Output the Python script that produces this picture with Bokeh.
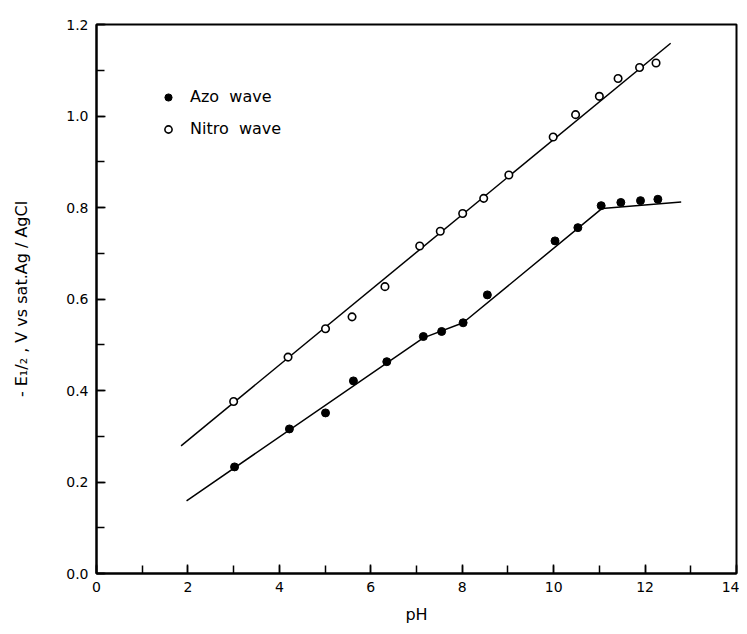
from bokeh.plotting import figure
from bokeh.models import Range1d, FixedTicker, Legend, LegendItem, NumeralTickFormatter
from bokeh.embed import file_html
from bokeh.resources import INLINE

# Azo wave (filled circles)
azo_ph = [3.02, 4.22, 5.01, 5.62, 6.35, 7.15, 7.55, 8.02, 8.55, 10.03, 10.53, 11.04, 11.47, 11.90, 12.28]
azo_e = [0.233, 0.316, 0.351, 0.421, 0.463, 0.518, 0.529, 0.548, 0.609, 0.727, 0.756, 0.804, 0.811, 0.815, 0.818]
# Nitro wave (open circles)
nitro_ph = [3.00, 4.19, 5.01, 5.59, 6.31, 7.07, 7.52, 8.01, 8.47, 9.02, 9.99, 10.48, 11.00, 11.41, 11.88, 12.24]
nitro_e = [0.376, 0.473, 0.535, 0.561, 0.627, 0.716, 0.748, 0.787, 0.820, 0.871, 0.954, 1.003, 1.043, 1.082, 1.106, 1.116]
# Drawn fit lines
azo_fit_ph = [1.97, 7.15, 8.02, 11.06, 12.79]
azo_fit_e = [0.159, 0.515, 0.548, 0.798, 0.812]
nitro_fit_ph = [1.85, 12.56]
nitro_fit_e = [0.279, 1.159]

x_major = [0, 2, 4, 6, 8, 10, 12, 14]
x_minor = list(range(0, 15))
y_major = [0.0, 0.2, 0.4, 0.6, 0.8, 1.0, 1.2]
y_minor = [i / 10 for i in range(0, 13)]

FONT = "DejaVu Sans"

p = figure(width=739, height=626, output_backend="svg", toolbar_location=None,
           x_range=Range1d(0, 14), y_range=Range1d(0, 1.2),
           min_border_left=96, min_border_top=24, min_border_right=3, min_border_bottom=52)
p.grid.visible = False
p.outline_line_color = "black"
p.outline_line_width = 2
p.background_fill_color = "white"
p.border_fill_color = "white"

p.line(nitro_fit_ph, nitro_fit_e, line_color="black", line_width=1.5)
p.line(azo_fit_ph, azo_fit_e, line_color="black", line_width=1.5)
azo_r = p.scatter(azo_ph, azo_e, marker="circle", size=8, fill_color="black", line_color="black")
nitro_r = p.scatter(nitro_ph, nitro_e, marker="circle", size=7.5, fill_color="white",
                    line_color="black", line_width=1.6)

for ax in (p.xaxis[0], p.yaxis[0]):
    ax.axis_line_width = 2
    ax.axis_line_color = "black"
    ax.major_tick_in = 9
    ax.major_tick_out = 0
    ax.minor_tick_in = 8
    ax.minor_tick_out = 0
    ax.major_tick_line_width = 1.5
    ax.minor_tick_line_width = 1.5
    ax.major_label_text_font = FONT
    ax.major_label_text_font_size = "14px"
    ax.major_label_text_color = "black"
    ax.axis_label_text_font = FONT
    ax.axis_label_text_font_size = "16px"
    ax.axis_label_text_font_style = "normal"
    ax.axis_label_text_color = "black"

p.xaxis.ticker = FixedTicker(ticks=x_major, minor_ticks=x_minor)
p.yaxis.ticker = FixedTicker(ticks=y_major, minor_ticks=y_minor)
p.yaxis.formatter = NumeralTickFormatter(format="0.0")
p.xaxis.major_label_standoff = 8
p.yaxis.major_label_standoff = 8
p.xaxis.axis_label = "pH"
p.xaxis.axis_label_standoff = 10
p.yaxis.axis_label = "- E\u2081/\u2082 , V vs sat.Ag / AgCl"
p.yaxis.axis_label_standoff = 32

legend = Legend(items=[LegendItem(label="Azo  wave", renderers=[azo_r]),
                       LegendItem(label="Nitro  wave", renderers=[nitro_r])],
                location=(63, 435), padding=0, margin=0, spacing=13,
                glyph_width=18, glyph_height=18, label_height=18, label_standoff=13,
                border_line_alpha=0, background_fill_alpha=0,
                label_text_font=FONT, label_text_font_size="16px",
                label_text_color="black")
p.add_layout(legend)

open("out.html", "w").write(file_html(p, INLINE))
